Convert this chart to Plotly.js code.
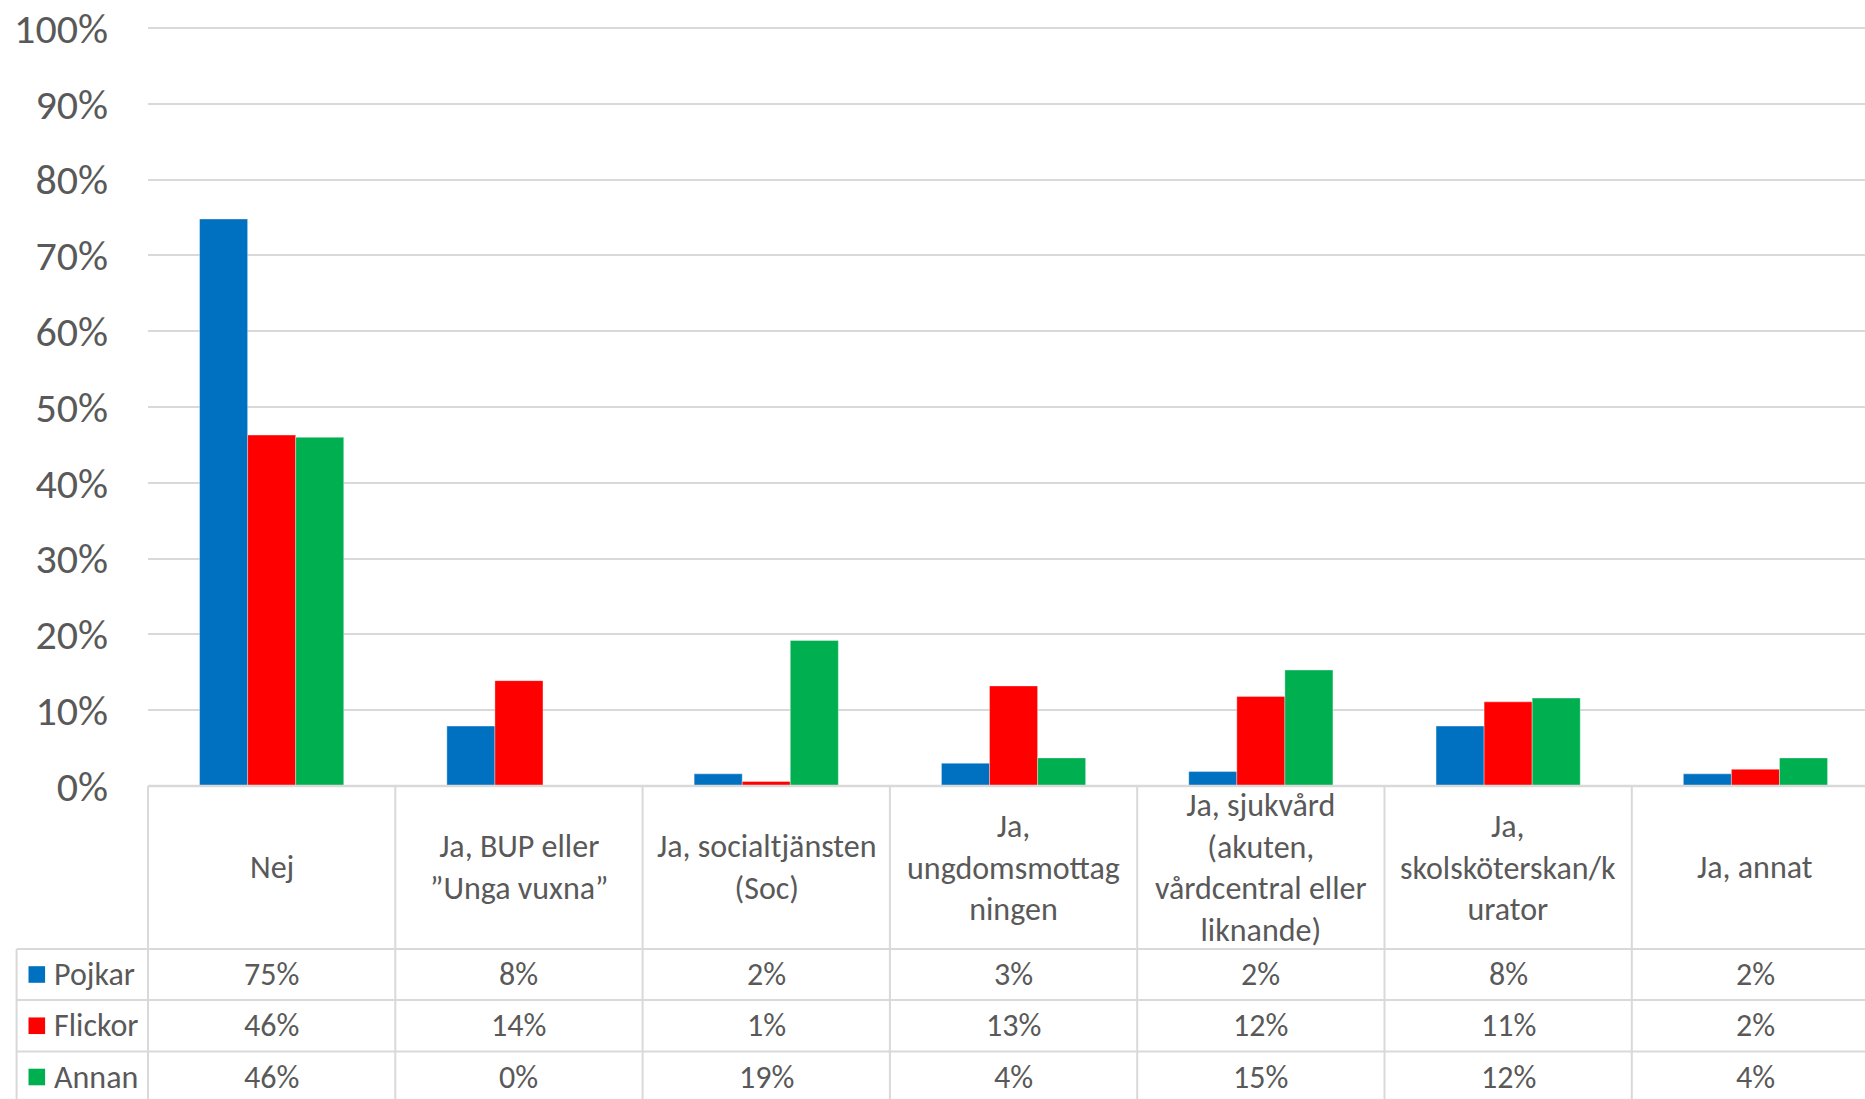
<!DOCTYPE html>
<html>
<head>
<meta charset="utf-8">
<script src="https://cdn.plot.ly/plotly-3.0.1.min.js"></script>
<style>html,body{margin:0;padding:0;overflow:hidden;background:#fff}</style>
</head>
<body>
<div id="chart" style="width:1865px;height:1099px"></div>
<script>
// ---- data ----
const categories = [
  "Nej",
  "Ja, BUP eller<br>”Unga vuxna”",
  "Ja, socialtjänsten<br>(Soc)",
  "Ja,<br>ungdomsmottag<br>ningen",
  "Ja, sjukvård<br>(akuten,<br>vårdcentral eller<br>liknande)",
  "Ja,<br>skolsköterskan/k<br>urator",
  "Ja, annat"
];
const seriesNames = ["Pojkar", "Flickor", "Annan"];
const pojkar  = [0.748, 0.079, 0.016, 0.030, 0.019, 0.079, 0.016];
const flickor = [0.463, 0.139, 0.006, 0.132, 0.118, 0.111, 0.022];
const annan   = [0.460, 0.000, 0.192, 0.037, 0.153, 0.116, 0.037];
const yTickVals = [0, 0.1, 0.2, 0.3, 0.4, 0.5, 0.6, 0.7, 0.8, 0.9, 1.0];
const yTickText = ["0%", "10%", "20%", "30%", "40%", "50%", "60%", "70%", "80%", "90%", "100%"];

// ---- styling ----
const colors = ["#0070C0", "#FF0000", "#00B050"];
const FONT = "Carlito, Lato, sans-serif";
const TEXT = "#595959";
const GRID = "#d9d9d9";

const W = 1865, H = 1099;
const M = {l: 148, r: 0, t: 28, b: 313};
const plotW = W - M.l - M.r, plotH = H - M.t - M.b;
const catWidthPx = 247.3;
const r0 = -0.5, r1 = -0.5 + plotW / catWidthPx;
const yBase = M.t + plotH;

function py(Y) { return (yBase - Y) / plotH; }
function pxPix(X) { return (X - M.l) / plotW; }
function pxCat(c) { return (c - r0) / (r1 - r0); }

const allSeries = [pojkar, flickor, annan];
const traces = allSeries.map((vals, s) => ({
  type: "bar",
  name: seriesNames[s],
  x: categories,
  y: vals,
  marker: {color: colors[s], line: {color: "rgba(255,255,255,0.35)", width: 1}},
  hoverinfo: "skip"
}));

// table geometry (pixels)
const headerTop = yBase, headerBottom = 949;
const rowLines = [949, 1000, 1051.5];
const rowCenters = [974.5, 1025.75, 1077];
const bottomY = 1120;
const legendLeft = 16.6;

const shapes = [];
const lineStyle = {color: GRID, width: 2};
// top gridline (range edge)
shapes.push({type: "line", xref: "paper", yref: "paper", x0: 0, x1: 1, y0: 1, y1: 1, line: lineStyle, layer: "below"});
// horizontal lines
shapes.push({type: "line", xref: "paper", yref: "paper", x0: 0, x1: 1.05, y0: 0, y1: 0, line: {color: GRID, width: 2.5}});
rowLines.forEach(Y => shapes.push({type: "line", xref: "paper", yref: "paper",
  x0: pxPix(legendLeft), x1: 1.05, y0: py(Y), y1: py(Y), line: lineStyle}));
// vertical lines
shapes.push({type: "line", xref: "paper", yref: "paper", x0: 0, x1: 0, y0: 0, y1: py(bottomY), line: lineStyle});
shapes.push({type: "line", xref: "paper", yref: "paper", x0: pxPix(legendLeft), x1: pxPix(legendLeft),
  y0: py(headerBottom), y1: py(bottomY), line: lineStyle});
for (let i = 0; i < categories.length; i++) {
  const xp = pxCat(i + 0.5);
  shapes.push({type: "line", xref: "paper", yref: "paper", x0: xp, x1: xp, y0: 0, y1: py(bottomY), line: lineStyle});
}
// legend keys
const keyX0 = 28.5, keySize = 16.6;
seriesNames.forEach((n, s) => {
  const c = rowCenters[s];
  shapes.push({type: "rect", xref: "paper", yref: "paper",
    x0: pxPix(keyX0), x1: pxPix(keyX0 + keySize),
    y0: py(c - keySize / 2), y1: py(c + keySize / 2),
    fillcolor: colors[s], line: {width: 0}});
});

const annotations = [];
const tfont = {family: FONT, size: 32, color: TEXT};
categories.forEach((c, i) => {
  annotations.push({xref: "x", yref: "paper", x: i, y: py((headerTop + headerBottom) / 2),
    text: c, showarrow: false, align: "center", xanchor: "center", yanchor: "middle", font: tfont});
});
allSeries.forEach((vals, s) => {
  vals.forEach((v, i) => {
    annotations.push({xref: "x", yref: "paper", x: i, y: py(rowCenters[s]),
      text: Math.round(v * 100) + "%", showarrow: false, xanchor: "center", yanchor: "middle", font: tfont});
  });
  annotations.push({xref: "paper", yref: "paper", x: pxPix(52), y: py(rowCenters[s]),
    text: seriesNames[s], showarrow: false, xanchor: "left", yanchor: "middle", font: tfont});
});

const layout = {
  width: W, height: H,
  margin: {l: M.l, r: M.r, t: M.t, b: M.b, pad: 0},
  paper_bgcolor: "#fff", plot_bgcolor: "#fff",
  showlegend: false,
  barmode: "group", bargap: 0.417, bargroupgap: 0,
  xaxis: {type: "category", range: [r0, r1], showticklabels: false, showgrid: false,
    zeroline: false, showline: false, ticks: "", fixedrange: true},
  yaxis: {range: [0, 1], tickvals: yTickVals, ticktext: yTickText, showgrid: true,
    gridcolor: GRID, gridwidth: 2, zeroline: false, showline: false, ticks: "",
    ticklabelstandoff: 39, tickfont: {family: FONT, size: 42, color: TEXT}, fixedrange: true},
  shapes: shapes,
  annotations: annotations,
  font: {family: FONT, color: TEXT}
};

Plotly.newPlot("chart", traces, layout, {displayModeBar: false, staticPlot: true});
</script>
</body>
</html>
